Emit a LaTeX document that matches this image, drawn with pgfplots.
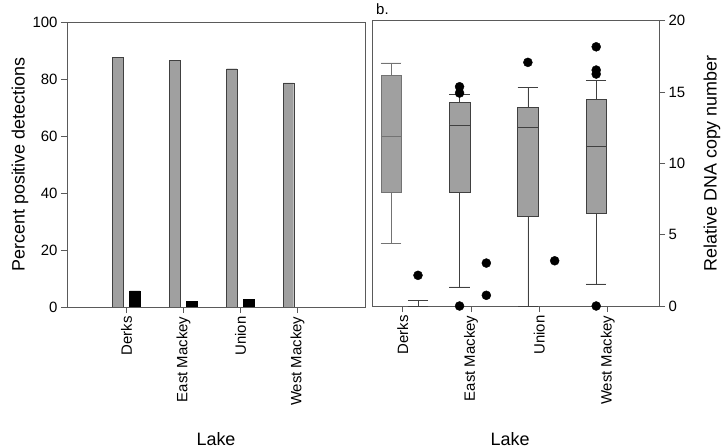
\documentclass[border=0pt]{standalone}
\usepackage{fontspec}
\setmainfont{Liberation Sans}
\usepackage{pgfplots}
\pgfplotsset{compat=1.18}
\usepgfplotslibrary{statistics}
\definecolor{boxgray}{HTML}{A0A0A0}
\definecolor{framegray}{HTML}{5A5A5A}
\begin{document}
\begin{tikzpicture}
\useasboundingbox (0,0) rectangle (726bp,448bp);
\pgfplotsset{every axis/.append style={
  scale only axis, tick align=outside, major tick length=6bp,
  axis line style={framegray, line width=0.6pt},
  tick style={framegray, line width=0.6pt},
  /pgf/number format/assume math mode=true,
  tick label style={font=\fontsize{15}{18}\selectfont},
  label style={font=\fontsize{18}{21}\selectfont},
  xtick={1,2,3,4},
  xticklabels={Derks,East Mackey,Union,West Mackey},
  x tick label style={rotate=90, anchor=east},
  xtick pos=bottom,
  xlabel={Lake},
}}
% Panel a
\begin{axis}[at={(67bp,141bp)}, anchor=south west, width=298bp, height=285bp,
  xmin=-0.045, xmax=5.186, ymin=0, ymax=100,
  ytick={0,20,40,60,80,100}, ytick pos=left,
  ylabel={Percent positive detections},
  ylabel style={at={(axis description cs:-0.158,0.5)}, anchor=center},
  xlabel style={at={(axis description cs:0.5,-0.486)}, anchor=base}]
\addplot[ybar, bar shift=0pt, bar width=0.18, fill=boxgray, draw=black!75] coordinates {(0.845,87.7)(1.845,86.5)(2.845,83.6)(3.845,78.6)};
\addplot[ybar, bar shift=0pt, bar width=0.18, fill=black, draw=black] coordinates {(1.145,5.7)(2.145,2.1)(3.145,2.7)};
\node[anchor=base west, font=\fontsize{15}{18}\selectfont] at (axis description cs:0.007,1.017) {a.};
\end{axis}
% Panel b
\begin{axis}[at={(372.7bp,142bp)}, anchor=south west, width=286.3bp, height=285.3bp,
  xmin=0.561, xmax=4.751, ymin=0, ymax=20,
  ytick={0,5,10,15,20}, ytick pos=right, yticklabel pos=right,
  ylabel={Relative DNA copy number},
  ylabel style={at={(axis description cs:1.185,0.5)}, anchor=center},
  xlabel style={at={(axis description cs:0.48,-0.489)}, anchor=base},
  clip=false, boxplot/draw direction=y, boxplot/box extend=0.3, boxplot/whisker extend=0.3]
\addplot[boxplot prepared={draw position=0.832, lower whisker=4.39, lower quartile=8.01, median=11.89, upper quartile=16.16, upper whisker=17.05}, fill=boxgray, draw=black!55] coordinates {};
\addplot[boxplot prepared={draw position=1.832, lower whisker=1.35, lower quartile=7.97, median=12.7, upper quartile=14.27, upper whisker=14.83}, fill=boxgray, draw=black!75] coordinates {};
\addplot[boxplot prepared={draw position=2.832, lower whisker=0, lower quartile=6.31, median=12.52, upper quartile=13.92, upper whisker=15.35}, fill=boxgray, draw=black!75] coordinates {};
\addplot[boxplot prepared={draw position=3.832, lower whisker=1.56, lower quartile=6.49, median=11.19, upper quartile=14.5, upper whisker=15.81}, fill=boxgray, draw=black!75] coordinates {};
\addplot[boxplot prepared={draw position=1.224, lower whisker=0, lower quartile=0, median=0, upper quartile=0, upper whisker=0.42}, fill=boxgray, draw=black!75] coordinates {};
\addplot[only marks, mark=*, mark size=4.5bp, black] coordinates {
  (1.224,2.15)
  (1.832,15.37)(1.832,14.93)(1.832,0)
  (2.224,3.01)(2.224,0.75)
  (2.832,17.08)
  (3.224,3.17)
  (3.832,18.17)(3.832,16.54)(3.832,16.26)(3.832,0)
};
\node[anchor=base west, font=\fontsize{15}{18}\selectfont] at (axis description cs:0.0,1.023) {b.};
\end{axis}
\end{tikzpicture}
\end{document}
